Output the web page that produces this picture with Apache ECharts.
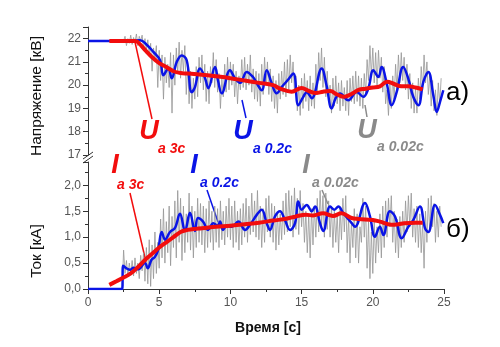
<!DOCTYPE html>
<html><head><meta charset="utf-8">
<script src="https://cdn.jsdelivr.net/npm/echarts@6/dist/echarts.min.js"></script>
<style>html,body{margin:0;padding:0;background:#fff}#c{width:500px;height:347px}</style>
</head><body><div id="c"></div>
<script>
// ---- Upper panel: voltage U [kV] ----
const redUTime = [1.5,3.3,3.5,4.1,4.5,5.0,5.5,6.0,6.5,7.0,8.0,9.0,10.0,11.0,12.0,13.0,13.5,14.3,15.0,15.5,16.0,16.5,17.0,17.5,18.0,18.5,19.0,19.5,20.0,20.5,21.0,21.5,22.0,22.5,23.0,23.5];
const redUVals = [21.9,21.9,21.85,21.45,21.2,20.95,20.78,20.6,20.52,20.5,20.45,20.38,20.3,20.2,20.1,20.0,19.85,19.72,19.88,19.75,19.66,19.72,19.75,19.6,19.5,19.62,19.8,19.85,19.9,19.95,20.15,20.05,19.95,19.95,19.9,19.82];

const blueUTime = [0,3.0,3.65,4.1,4.59,5.06,5.29,5.64,5.88,6.23,6.58,6.93,7.28,7.51,7.87,8.22,8.45,8.92,9.13,9.39,9.97,10.32,10.7,11.14,11.59,11.85,12.2,12.55,12.9,13.25,13.6,14.0,14.42,14.77,15.12,15.36,15.71,16.41,16.75,17.11,17.4,17.7,18.28,18.87,19.33,19.68,20.04,20.39,20.62,20.98,21.33,21.68,22.14,22.49,22.84,23.2,23.55,23.9,24.25,24.49,24.72,24.95];
const blueUVals = [21.9,21.9,21.93,21.75,21.43,21.07,20.43,20.72,20.3,21.0,21.28,21.07,19.7,19.92,20.72,20.3,19.87,20.78,20.2,19.65,20.64,20.3,20.1,20.57,20.35,20.08,19.78,20.64,20.08,19.65,19.92,20.2,20.5,19.14,19.5,19.7,19.44,20.72,20.0,19.0,19.45,19.64,19.35,19.71,19.5,19.85,20.64,20.35,20.78,20.07,19.14,19.71,20.78,20.28,19.5,19.14,20.14,20.57,19.57,18.85,19.28,19.78];

const grayUStart = 2.5, grayStep = 0.1;
const grayUVals = [21.9,22.1,21.7,22.0,21.8,
22.15,21.75,22.05,21.85,22.2,21.7,22.1,21.9,22.15,21.6,
22.0,21.5,21.95,21.3,21.8,20.6,21.6,21.1,21.7,19.9,
21.5,20.2,21.3,19.4,21.2,20.1,20.9,19.9,21.4,18.8,
21.3,20.0,21.6,20.5,21.85,20.3,21.5,20.6,21.7,19.6,
20.9,19.2,20.6,19.0,20.3,19.4,20.8,19.5,21.2,20.1,
21.3,19.8,20.9,19.3,20.6,19.2,20.8,20.1,21.4,19.9,
21.1,19.7,20.5,19.0,20.3,19.5,20.9,19.7,21.2,19.8,
21.0,20.0,20.9,19.5,20.6,19.2,20.4,19.8,21.1,19.9,
21.2,19.8,20.9,20.0,21.3,19.7,20.7,19.4,20.6,19.3,
20.5,19.1,20.9,19.6,21.2,20.0,21.0,19.6,20.7,19.3,
20.4,19.0,20.2,18.8,20.5,19.4,20.6,19.6,21.0,19.5,
21.1,19.8,21.3,20.1,21.0,19.7,20.4,18.9,20.0,18.7,
20.3,19.0,20.5,19.3,20.2,18.9,20.4,19.1,20.1,19.0,
20.9,19.6,21.4,20.2,21.6,19.9,21.2,19.5,20.6,19.3,
20.0,18.8,20.3,19.1,20.4,19.2,20.1,18.9,20.2,19.1,
19.9,18.9,20.2,18.7,20.3,19.3,20.4,19.2,20.6,19.3,
20.4,19.1,20.3,19.0,20.5,19.6,21.1,20.2,21.7,20.4,
21.6,20.1,21.4,20.0,21.5,20.3,21.2,19.7,20.8,19.2,
19.8,18.7,20.1,19.0,20.4,19.4,20.9,19.8,21.3,20.1,
21.4,20.2,21.2,19.8,20.9,19.4,20.5,19.0,20.1,18.8,
19.9,18.8,20.3,19.4,20.8,19.8,21.3,20.1,21.0,19.6,
20.4,19.1,20.2,18.9,19.8,18.7,20.1,19.2,20.3];

// ---- Lower panel: current I [kA] ----
const redITime = [1.5,2.0,2.5,3.0,3.5,4.0,4.5,5.0,5.5,6.0,6.5,7.0,7.5,8.0,9.0,10.0,11.0,12.0,13.0,14.0,14.6,15.3,15.8,16.5,17.2,17.8,18.5,19.0,20.0,20.5,21.3,21.8,22.2,23.0,23.5];
const redIVals = [0.08,0.15,0.22,0.3,0.42,0.56,0.68,0.8,0.9,1.0,1.1,1.14,1.16,1.17,1.2,1.22,1.25,1.28,1.32,1.36,1.4,1.43,1.42,1.46,1.41,1.46,1.37,1.35,1.33,1.3,1.24,1.25,1.27,1.28,1.28];

const blueITime = [0,2.4,2.46,2.95,3.2,3.53,4.0,4.2,4.45,4.7,4.92,5.18,5.41,5.76,6.11,6.46,6.81,7.16,7.51,7.72,8.08,8.43,8.8,9.1,9.27,9.48,9.75,10.09,10.56,11.03,11.38,11.85,12.2,12.55,12.78,13.13,13.48,13.83,14.19,14.54,14.77,15.0,15.36,15.71,15.94,16.29,16.52,17.0,17.3,17.58,17.93,18.52,18.75,19.45,19.8,20.15,20.5,20.74,21.2,21.56,22.03,22.49,22.84,23.31,23.67,23.9,24.37,24.72,24.95];
const blueIVals = [0,0,0.45,0.37,0.41,0.38,0.5,0.4,0.56,0.62,0.75,1.1,0.95,1.1,1.18,1.45,1.12,1.47,1.12,1.37,1.3,1.14,1.27,1.22,1.3,1.14,1.22,1.2,1.3,1.14,1.24,1.43,1.53,1.27,1.14,1.4,1.5,1.33,1.14,1.27,1.69,1.53,1.62,1.5,1.59,1.27,1.12,1.59,1.53,1.59,1.46,1.27,1.2,1.66,1.4,1.01,1.2,1.04,1.5,1.4,0.98,1.2,1.33,1.59,1.17,1.1,1.62,1.43,1.27];

const grayIStart = 2.4;
const grayIVals = [0.0,0.75,0.3,0.55,0.25,0.5,
0.3,0.55,0.25,0.6,0.3,0.5,0.2,0.65,0.35,0.7,
0.15,0.8,0.1,0.95,0.05,0.85,0.2,1.1,0.3,0.9,
0.4,1.35,0.6,1.55,0.5,1.3,0.7,1.6,0.45,1.4,
0.8,1.7,0.6,1.9,0.9,1.75,0.55,1.6,0.7,1.45,
0.9,1.85,0.75,1.6,0.6,1.5,0.8,1.75,0.9,1.65,
0.85,1.6,0.7,1.55,0.8,1.7,0.9,1.5,0.75,1.6,
0.9,1.55,0.8,1.7,0.95,1.5,0.85,1.6,1.0,1.75,
0.95,1.6,0.8,1.7,0.9,1.5,0.75,1.55,0.85,1.65,
1.0,1.75,0.9,1.6,1.05,1.85,1.1,1.7,1.0,1.9,
0.95,1.6,0.8,1.55,0.9,1.75,1.1,1.8,1.0,1.65,
0.9,1.6,0.75,1.5,0.85,1.45,0.95,1.7,1.05,1.85,
1.1,1.9,1.2,1.8,1.0,1.95,1.15,1.75,1.05,1.9,
1.2,1.65,0.9,1.5,0.7,1.45,0.6,1.55,0.85,1.6,
1.0,1.75,1.1,1.9,1.2,1.8,1.0,1.85,1.15,1.7,
1.0,1.6,0.8,1.5,0.9,1.45,0.7,1.55,0.95,1.75,
1.1,1.8,0.7,1.4,0.5,1.3,0.8,1.55,0.6,1.45,
0.5,1.2,0.9,1.75,1.0,1.6,0.4,1.3,0.2,1.1,
0.3,1.3,0.5,1.2,0.7,1.45,0.6,1.6,0.8,1.7,
1.0,1.75,1.2,1.8,0.9,1.5,0.7,1.35,0.6,1.4,
0.8,1.5,0.9,1.7,1.1,1.8,1.2,1.85,1.0,1.55,
0.9,1.6,0.8,1.45,0.7,1.3,0.4,1.5,0.9,1.75,
1.1,1.8,1.2,1.65,0.9,1.5,1.0,1.6,1.2];

const xTickLabels = ['0','5','10','15','20','25'];

function pairs(ts, vs){ return ts.map((t,i)=>[t, vs[i]]); }
function sampled(start, vs){ return vs.map((v,i)=>[+(start + i*grayStep).toFixed(2), v]); }

const FONT = '"Liberation Sans", Arial, sans-serif';
const axisCol = '#333';
const labCol = '#555';
const RED = '#f20d0d', BLUE = '#0a14e6', GRAY = '#8a8a8a', GRAYLINE = '#959595';

const chart = echarts.init(document.getElementById('c'), null, {renderer:'canvas'});

function yAx(grid, min, max, fmt){
  return {gridIndex:grid, type:'value', min:min, max:max,
    interval: grid===0 ? 1 : 0.5,
    axisLine:{show:true, lineStyle:{color:axisCol, width:1}},
    axisTick:{show:true, length:5, lineStyle:{color:axisCol}},
    minorTick:{show:true, splitNumber:2, length:3, lineStyle:{color:axisCol}},
    splitLine:{show:false},
    axisLabel:{color:labCol, fontSize:12, fontFamily:FONT, margin:7, formatter:fmt, showMaxLabel:false}};
}

const graphic = [];
function txt(x,y,text,opt){
  graphic.push({type:'text', x:x, y:y, rotation:opt.rot||0, silent:true,
    style:Object.assign({text:text, fontFamily:FONT, textAlign:opt.align||'left', textVerticalAlign:'middle'}, opt.style)});
}
function ln(x1,y1,x2,y2,color,w){
  graphic.push({type:'line', silent:true, shape:{x1,y1,x2,y2}, style:{stroke:color, lineWidth:w}});
}
// axis titles
txt(37,96,'Напряжение [кВ]',{rot:Math.PI/2, align:'center', style:{fontSize:15.5, fill:'#111'}});
txt(37,251,'Ток [кА]',{rot:Math.PI/2, align:'center', style:{fontSize:15.5, fill:'#111'}});
txt(268,328,'Время [с]',{align:'center', style:{fontSize:14, fontWeight:'bold', fill:'#111'}});
// panel letters
txt(446,93,'а)',{style:{fontSize:26, fill:'#000'}});
txt(446,230,'б)',{style:{fontSize:26, fill:'#000'}});
// axis break
ln(83,159,93,152,axisCol,1);
ln(83,163,93,156,axisCol,1);
// annotations top
const big = {fontSize:27, fontStyle:'italic', fontWeight:'bold'};
const sub = {fontSize:14, fontStyle:'italic', fontWeight:'bold'};
txt(149,132,'U',{align:'center', style:Object.assign({fill:RED},big)});
txt(158,149,'а 3с',{style:Object.assign({fill:RED},sub)});
ln(152,119,135,42,RED,1.5);
txt(243,132,'U',{align:'center', style:Object.assign({fill:BLUE},big)});
txt(253,149,'а 0.2с',{style:Object.assign({fill:BLUE},sub)});
ln(246,118,242,100,BLUE,1.5);
txt(367,131,'U',{align:'center', style:Object.assign({fill:GRAY},big)});
txt(377,147,'а 0.02с',{style:Object.assign({fill:GRAY},sub)});
ln(367,117,365,105,GRAY,1.5);
// annotations bottom
txt(115,166,'I',{align:'center', style:Object.assign({fill:RED},big)});
txt(117,185,'а 3с',{style:Object.assign({fill:RED},sub)});
ln(130,193,146,262,RED,1.5);
txt(194,166,'I',{align:'center', style:Object.assign({fill:BLUE},big)});
txt(200,183,'а 0.2с',{style:Object.assign({fill:BLUE},sub)});
ln(207,190,218,222,BLUE,1.5);
txt(306,166,'I',{align:'center', style:Object.assign({fill:GRAY},big)});
txt(312,183,'а 0.02с',{style:Object.assign({fill:GRAY},sub)});
ln(322,190,328,204,GRAY,1.5);

function lineS(xi, data, color, w, z, smooth){
  return {type:'line', xAxisIndex:xi, yAxisIndex:xi, data:data, showSymbol:false, symbol:'none',
    smooth:smooth, silent:true, z:z, lineStyle:{color:color, width:w}};
}

chart.setOption({
  animation:false,
  backgroundColor:'#fff',
  grid:[{left:88, right:56, top:27, height:128},{left:88, right:56, top:162, height:127}],
  xAxis:[
    {gridIndex:0, type:'value', min:0, max:25, show:false},
    {gridIndex:1, type:'value', min:0, max:25, interval:5,
      axisLine:{lineStyle:{color:axisCol}},
      axisTick:{length:5, lineStyle:{color:axisCol}},
      minorTick:{show:true, splitNumber:2, length:3, lineStyle:{color:axisCol}},
      splitLine:{show:false},
      axisLabel:{color:labCol, fontSize:12, fontFamily:FONT, margin:8,
        formatter:(v)=>xTickLabels[Math.round(v/5)]}}
  ],
  yAxis:[
    yAx(0,17,22.5,(v)=>String(v)),
    yAx(1,0,2.45,(v)=>v.toFixed(1).replace('.',','))
  ],
  graphic:graphic,
  series:[
    lineS(0, sampled(grayUStart, grayUVals), GRAYLINE, 0.8, 1, false),
    lineS(0, pairs(blueUTime, blueUVals), BLUE, 2.5, 2, 0.4),
    lineS(0, pairs(redUTime, redUVals), RED, 4, 3, 0.4),
    lineS(1, sampled(grayIStart, grayIVals), GRAYLINE, 0.8, 1, false),
    lineS(1, pairs(blueITime, blueIVals), BLUE, 2.5, 2, 0.4),
    lineS(1, pairs(redITime, redIVals), RED, 4, 3, 0.4)
  ]
});
</script></body></html>
